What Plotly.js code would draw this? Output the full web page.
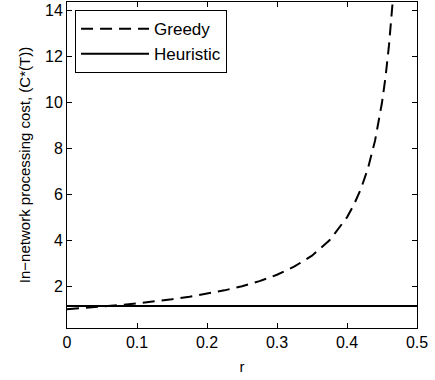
<!DOCTYPE html>
<html>
<head>
<meta charset="utf-8">
<script src="https://cdn.plot.ly/plotly-3.0.1.min.js"></script>
<style>body{margin:0;padding:0;background:#fff;}#chart{width:435px;height:380px;}</style>
</head>
<body>
<div id="chart"></div>
<script>
const rGreedy = [0, 0.025, 0.05, 0.075, 0.1, 0.125, 0.15, 0.175, 0.2, 0.225, 0.25, 0.275, 0.3, 0.325, 0.35, 0.375, 0.4, 0.41, 0.42, 0.43, 0.44, 0.45, 0.455, 0.46, 0.465];
const costGreedy = [1.0, 1.05, 1.11, 1.18, 1.25, 1.33, 1.43, 1.54, 1.67, 1.82, 2.0, 2.22, 2.5, 2.86, 3.33, 4.0, 5.0, 5.56, 6.25, 7.14, 8.33, 10.0, 11.1, 12.5, 14.3];
const rHeuristic = [0, 0.5];
const costHeuristic = [1.14, 1.14];
const xTicks = [0, 0.1, 0.2, 0.3, 0.4, 0.5];
const xTickLabels = ['0', '0.1', '0.2', '0.3', '0.4', '0.5'];
const yTicks = [2, 4, 6, 8, 10, 12, 14];
const yTickLabels = ['2', '4', '6', '8', '10', '12', '14'];

const fontFam = 'Liberation Sans, Arial, Helvetica, sans-serif';
const traces = [
  {x: rGreedy, y: costGreedy, type: 'scatter', mode: 'lines', name: 'Greedy',
   line: {color: '#000', width: 2, dash: '12px,7px'}},
  {x: rHeuristic, y: costHeuristic, type: 'scatter', mode: 'lines', name: 'Heuristic',
   line: {color: '#000', width: 2}}
];
const axisCommon = {
  showgrid: false, zeroline: false, showline: true, linecolor: '#000', linewidth: 1,
  mirror: 'ticks', ticks: 'inside', ticklen: 5, tickcolor: '#000', tickwidth: 1,
  tickfont: {family: fontFam, size: 16, color: '#000'}
};
const layout = {
  width: 435, height: 380,
  margin: {l: 67, r: 18, t: 2, b: 52},
  paper_bgcolor: '#fff', plot_bgcolor: '#fff',
  font: {family: fontFam, size: 16, color: '#000'},
  showlegend: true,
  legend: {x: 0.023, y: 0.975, xanchor: 'left', yanchor: 'top',
    bordercolor: '#000', borderwidth: 1, bgcolor: '#fff', itemwidth: 68,
    font: {family: fontFam, size: 17, color: '#000'}, tracegroupgap: 0},
  xaxis: Object.assign({}, axisCommon, {
    range: [0, 0.5], tickvals: xTicks, ticktext: xTickLabels,
    title: {text: 'r', font: {family: fontFam, size: 15, color: '#000'}, standoff: 11}
  }),
  yaxis: Object.assign({}, axisCommon, {
    range: [0.18, 14.38], tickvals: yTicks, ticktext: yTickLabels,
    title: {text: 'In\u2212network processing cost, (C*(T))', font: {family: fontFam, size: 15, color: '#000'}, standoff: 10}
  })
};
Plotly.newPlot('chart', traces, layout, {displayModeBar: false, staticPlot: true});
</script>
</body>
</html>
